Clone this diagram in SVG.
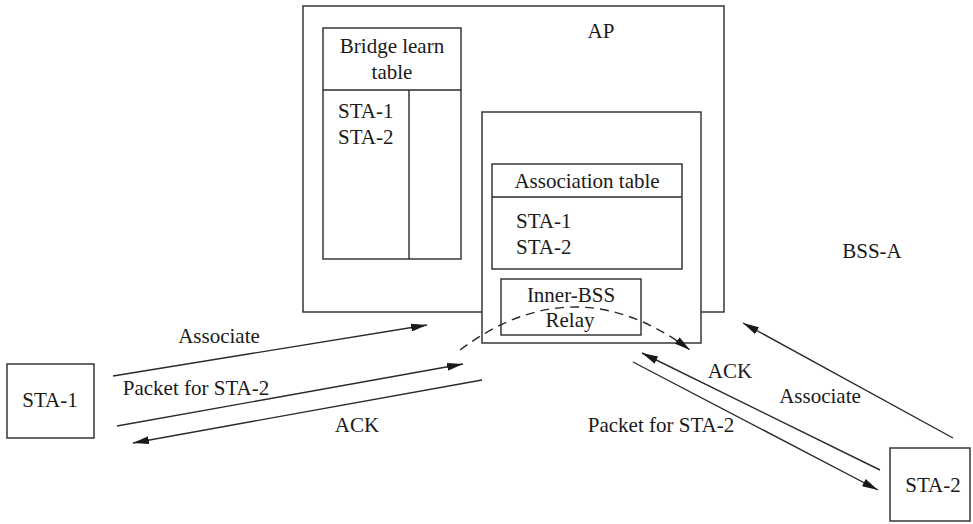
<svg xmlns="http://www.w3.org/2000/svg" width="973" height="524" viewBox="0 0 973 524">
<defs>
<style>
.b{fill:#fff;stroke:#2a2a2a;stroke-width:1.4}
.l{stroke:#2a2a2a;stroke-width:1.4;fill:none}
text{font-family:'Liberation Serif','Times New Roman',Times,serif;font-size:21px;fill:#1a1a1a}
.m{text-anchor:middle}
</style>
<marker id="ah" markerUnits="userSpaceOnUse" markerWidth="18" markerHeight="8" refX="16" refY="4" orient="auto">
<path d="M0,0 L16,4 L0,8 Z" fill="#1a1a1a"/>
</marker>
</defs>
<rect width="973" height="524" fill="#fff"/>
<g id="ap">
<rect class="b" x="303" y="6" width="421" height="306"/>
<text class="m" x="601" y="38">AP</text>
</g>
<g id="bridge-table">
<rect class="b" x="323" y="28" width="138" height="231"/>
<line class="l" x1="323" y1="90" x2="461" y2="90"/>
<line class="l" x1="409" y1="90" x2="409" y2="259"/>
<text class="m" x="392" y="53">Bridge learn</text>
<text class="m" x="392" y="79">table</text>
<text x="338" y="118">STA-1</text>
<text x="338" y="144">STA-2</text>
</g>
<g id="inner">
<rect class="b" x="482" y="112" width="219" height="231"/>
</g>
<g id="assoc-table">
<rect class="b" x="492" y="164" width="190" height="105"/>
<line class="l" x1="492" y1="197" x2="682" y2="197"/>
<text class="m" x="587" y="188">Association table</text>
<text x="516" y="228">STA-1</text>
<text x="516" y="254">STA-2</text>
</g>
<g id="relay">
<rect class="b" x="501" y="279" width="140" height="56"/>
<text class="m" x="571" y="302">Inner-BSS</text>
<text class="m" x="570" y="327">Relay</text>
</g>
<g id="bss-a">
<text class="m" x="872" y="258">BSS-A</text>
</g>
<g id="sta1">
<rect class="b" x="7" y="364" width="87" height="74"/>
<text class="m" x="50" y="407">STA-1</text>
</g>
<g id="sta2">
<rect class="b" x="890" y="448" width="80" height="73"/>
<text class="m" x="933" y="492">STA-2</text>
</g>
<g id="connectors">
<line class="l" x1="113" y1="376" x2="427" y2="325" marker-end="url(#ah)"/>
<line class="l" x1="117" y1="426" x2="463" y2="364" marker-end="url(#ah)"/>
<line class="l" x1="482" y1="380" x2="133" y2="443" marker-end="url(#ah)"/>
<path class="l" d="M460,350 Q575,264 690,350" stroke-dasharray="9,6" marker-end="url(#ah)"/>
<line class="l" x1="880" y1="470" x2="642" y2="353" marker-end="url(#ah)"/>
<line class="l" x1="633" y1="362" x2="878" y2="490" marker-end="url(#ah)"/>
<line class="l" x1="953" y1="438" x2="743" y2="323" marker-end="url(#ah)"/>
<text class="m" x="219" y="343">Associate</text>
<text class="m" x="196" y="395">Packet for STA-2</text>
<text class="m" x="357" y="432">ACK</text>
<text class="m" x="730" y="378">ACK</text>
<text class="m" x="820" y="403">Associate</text>
<text class="m" x="661" y="432">Packet for STA-2</text>
</g>
</svg>
